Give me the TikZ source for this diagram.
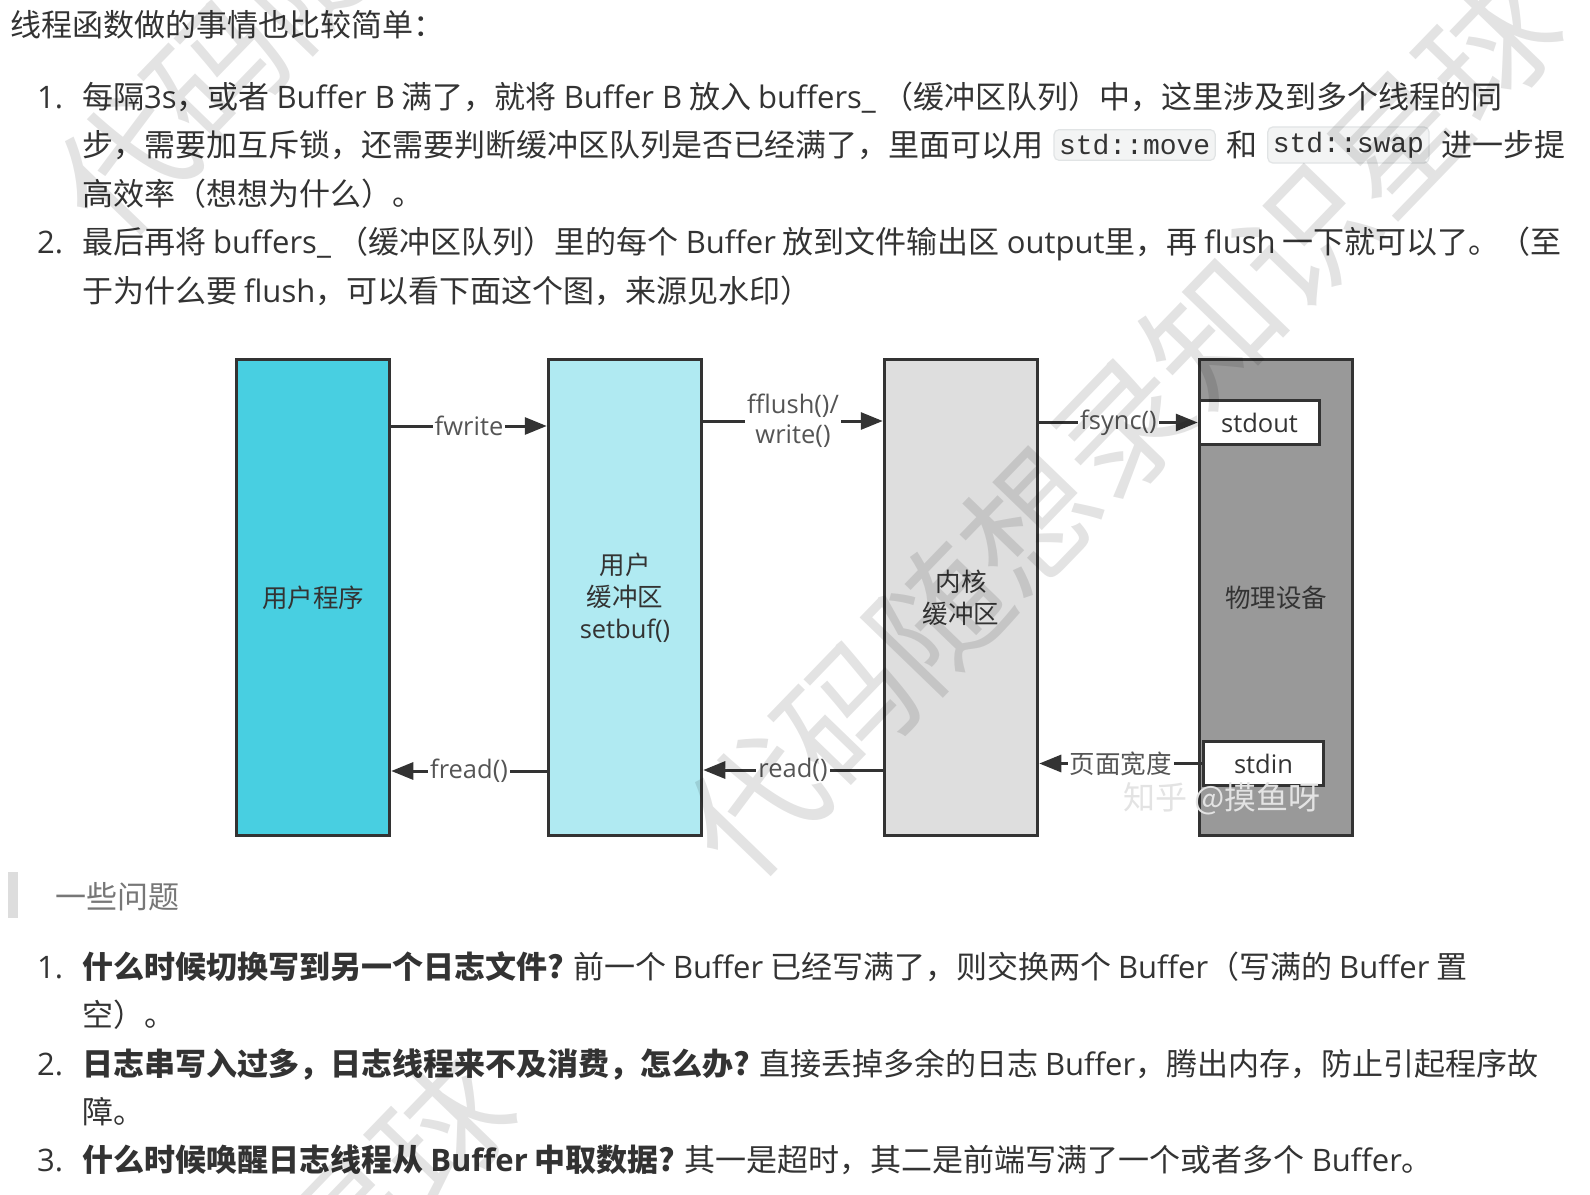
\documentclass[tikz,border=0pt]{standalone}
\usepackage[dvipsnames,rgb]{xcolor}
\usepackage{fontspec}
\setmainfont{Noto Sans CJK SC}
\newfontfamily\enfont{Open Sans}
\newfontfamily\codefont{Liberation Mono}
\newcommand{\en}[1]{{\enfont #1}}
\usepackage{tikz}
\usetikzlibrary{positioning,arrows.meta}

\definecolor{ink}{RGB}{51,51,51}
\definecolor{quoteink}{RGB}{119,119,119}
\definecolor{quotebar}{RGB}{221,221,221}
\definecolor{codebg}{RGB}{243,244,244}
\definecolor{codeline}{RGB}{225,228,229}
\definecolor{usercol}{RGB}{72,207,225}
\definecolor{ubufcol}{RGB}{176,234,242}
\definecolor{kbufcol}{RGB}{222,222,222}
\definecolor{devcol}{RGB}{153,153,153}
\definecolor{edge}{RGB}{51,51,51}
\definecolor{lblink}{RGB}{85,85,85}

\begin{document}
\begin{tikzpicture}[x=1pt, y=-1pt,
    >={Triangle[length=22pt,width=17pt]},
    body/.style={anchor=west, inner sep=0pt, text=ink,
        text height=26pt, text depth=3pt,
        font=\fontsize{31}{37}\selectfont},
    itemno/.style={body, font=\enfont\fontsize{31}{37}\selectfont},
    snippet/.style={draw=codeline, fill=codebg, rounded corners=5pt,
        line width=1.2pt, inner xsep=5pt, inner ysep=5pt, text=ink,
        font=\codefont\fontsize{28}{30}\selectfont},
    stage/.style={draw=edge, line width=3.5pt, minimum width=153pt,
        minimum height=476pt, align=center, text=ink,
        font=\fontsize{25.5}{32}\selectfont},
    port/.style={draw=edge, fill=white, line width=3.5pt,
        minimum width=120pt, minimum height=44pt, text=ink,
        font=\enfont\fontsize{25.5}{30}\selectfont},
    lbl/.style={fill=white, inner sep=2pt, text=lblink, align=center,
        font=\fontsize{25.5}{30}\selectfont},
    wire/.style={->, draw=edge, line width=3pt},
    wmark/.style={rotate=46, text=black, text opacity=0.11,
        font=\fontsize{132}{132}\selectfont}]

    \useasboundingbox[fill=white] (0,0) rectangle (1590,1194);

    % text above the figure
    \node[body] (intro) at (10,25) {线程函数做的事情也比较简单：};

    \node[itemno] (n1) at (37,97) {1.};
    \node[body] (p1a) at (82,97) {每隔\en{3s}，或者 \en{Buffer B} 满了，就将 \en{Buffer B} 放入 \en{buffers\_} （缓冲区队列）中，这里涉及到多个线程的同};
    \node[body] (p1b) at (82,145) {步，需要加互斥锁，还需要判断缓冲区队列是否已经满了，里面可以用};
    \node[snippet, right=10pt of p1b] (move) {std::move};
    \node[body, right=10pt of move] (he) {和};
    \node[snippet, right=10pt of he] (swap) {std::swap};
    \node[body, right=12pt of swap] (p1c) {进一步提};
    \node[body] (p1d) at (82,194) {高效率（想想为什么）。};

    \node[itemno] (n2) at (37,242) {2.};
    \node[body] (p2a) at (82,242) {最后再将 \en{buffers\_} （缓冲区队列）里的每个 \en{Buffer} 放到文件输出区 \en{output}里，再 \en{flush} 一下就可以了。（至};
    \node[body] (p2b) at (82,291) {于为什么要 \en{flush}，可以看下面这个图，来源见水印）};

    % the figure
    \node[stage, fill=usercol] (user) at (313,597.5) {用户程序};
    \node[stage, fill=ubufcol, right=155.5pt of user] (ubuf)
        {用户\\缓冲区\\\en{setbuf()}};
    \node[stage, fill=kbufcol, right=179.5pt of ubuf] (kbuf)
        {内核\\缓冲区};
    \node[stage, fill=devcol, right=158.5pt of kbuf] (dev) {物理设备};

    \node[port, anchor=north west] (stdout)
        at ([yshift=-41pt]dev.north west) {stdout};
    \node[port, anchor=south west] (stdin)
        at ([xshift=4pt,yshift=50pt]dev.south west) {stdin};

    \draw[wire] ([yshift=171.5pt]user.east)
        -- node[lbl] {\en{fwrite}} ([yshift=171.5pt]ubuf.west);
    \draw[wire] ([yshift=176.5pt]ubuf.east)
        -- node[lbl] {\en{fflush()/}\\\en{write()}} ([yshift=176.5pt]kbuf.west);
    \draw[wire] (kbuf.east |- stdout.west)
        -- node[lbl] {\en{fsync()}} (stdout.west);
    \draw[wire] (stdin.west)
        -- node[lbl] {页面宽度} (kbuf.east |- stdin.west);
    \draw[wire] ([yshift=-172.5pt]kbuf.west)
        -- node[lbl] {\en{read()}} ([yshift=-172.5pt]ubuf.east);
    \draw[wire] ([yshift=-173.5pt]ubuf.west)
        -- node[lbl] {\en{fread()}} ([yshift=-173.5pt]user.east);

    \node[text=gray!22, font=\fontsize{32}{32}\selectfont] (zhihu)
        at (1222,799) {知乎 @摸鱼呀};

    % text below the figure
    \fill[quotebar] (8,872) rectangle (18,918);
    \node[body, text=quoteink] (quote) at (55,897) {一些问题};

    \node[itemno] (q1n) at (37,967) {1.};
    \node[body] (q1a) at (82,967) {{\bfseries 什么时候切换写到另一个日志文件?} 前一个 \en{Buffer} 已经写满了，则交换两个 \en{Buffer}（写满的 \en{Buffer} 置};
    \node[body] (q1b) at (82,1015) {空）。};
    \node[itemno] (q2n) at (37,1064) {2.};
    \node[body] (q2a) at (82,1064) {{\bfseries 日志串写入过多，日志线程来不及消费，怎么办?} 直接丢掉多余的日志 \en{Buffer}，腾出内存，防止引起程序故};
    \node[body] (q2b) at (82,1112) {障。};
    \node[itemno] (q3n) at (37,1160) {3.};
    \node[body] (q3a) at (82,1160) {{\bfseries 什么时候唤醒日志线程从 {\enfont Buffer} 中取数据?} 其一是超时，其二是前端写满了一个或者多个 \en{Buffer}。};

    % watermark
    \node[wmark] (wm1) at (1122,426) {代码随想录知识星球};
    \node[wmark] (wm2) at (492,-215) {代码随想录知识星球};
    \node[wmark] (wm3) at (397,1176) {星球};
\end{tikzpicture}
\end{document}
